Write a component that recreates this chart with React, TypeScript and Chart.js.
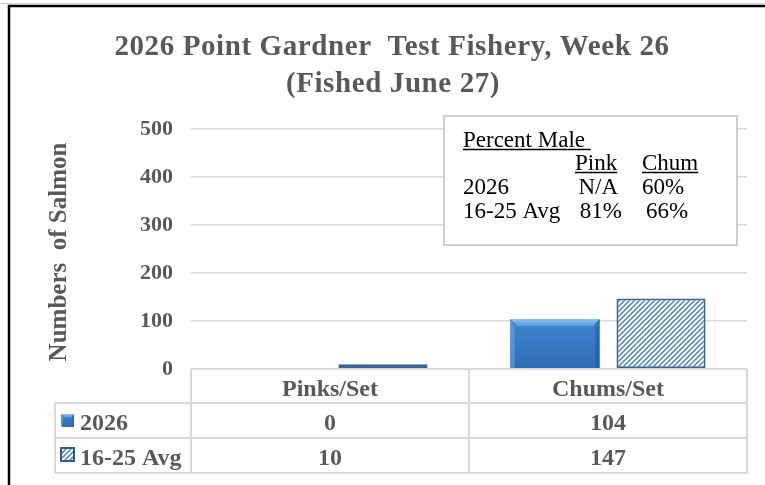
import React, { useEffect, useRef } from 'react';
import { Chart, registerables } from 'chart.js';

Chart.register(...registerables);

// ---- data ----
const categories = ['Pinks/Set', 'Chums/Set'];
const seriesNames = ['2026', '16-25 Avg'];
const values2026 = [0, 104];
const valuesAvg = [10, 147];
const yTicks = [0, 100, 200, 300, 400, 500];
const titleLines = ['2026 Point Gardner  Test Fishery, Week 26', '(Fished June 27)'];
const yAxisTitle = 'Numbers  of Salmon';
const boxHeading = 'Percent Male ';
const boxColumns = ['Pink', 'Chum'];
const boxRowLabels = ['2026', '16-25 Avg'];
const boxPink = ['N/A', '81%'];
const boxChum = ['60%', '66%'];

const SERIF = "'Liberation Serif', 'Times New Roman', serif";
const GRAY = '#595959';
const LINE = '#d9d9d9';

function makeHatch(ctx: CanvasRenderingContext2D): CanvasPattern | string {
  const s = 5;
  const c = document.createElement('canvas');
  c.width = s;
  c.height = s;
  const g = c.getContext('2d')!;
  g.fillStyle = '#ffffff';
  g.fillRect(0, 0, s, s);
  g.strokeStyle = '#4f7fbd';
  g.lineWidth = 1.5;
  g.beginPath();
  g.moveTo(0, s); g.lineTo(s, 0);
  g.moveTo(-s / 2, s / 2); g.lineTo(s / 2, -s / 2);
  g.moveTo(s / 2, s * 1.5); g.lineTo(s * 1.5, s / 2);
  g.stroke();
  return ctx.createPattern(c, 'repeat') || '#ffffff';
}

function drawBevelBar(ctx: CanvasRenderingContext2D, l: number, t: number, w: number, h: number) {
  const r = l + w;
  const base = t + h;
  const g = ctx.createLinearGradient(0, t, 0, base);
  g.addColorStop(0, '#4287d3');
  g.addColorStop(1, '#2f6cb6');
  ctx.fillStyle = g;
  ctx.fillRect(l, t, w, h);
  const b = Math.min(7, h / 3, w / 4);
  const gt = ctx.createLinearGradient(0, t, 0, t + b);
  gt.addColorStop(0, '#8cc0f2');
  gt.addColorStop(1, '#5d9de3');
  ctx.fillStyle = gt;
  ctx.beginPath();
  ctx.moveTo(l, t); ctx.lineTo(r, t); ctx.lineTo(r - b, t + b); ctx.lineTo(l + b, t + b); ctx.closePath();
  ctx.fill();
  ctx.fillStyle = 'rgba(110,170,235,0.55)';
  ctx.beginPath();
  ctx.moveTo(l, t); ctx.lineTo(l + b * 0.6, t + b); ctx.lineTo(l + b * 0.6, base); ctx.lineTo(l, base); ctx.closePath();
  ctx.fill();
  ctx.fillStyle = 'rgba(30,80,150,0.45)';
  ctx.beginPath();
  ctx.moveTo(r, t); ctx.lineTo(r - b * 0.6, t + b); ctx.lineTo(r - b * 0.6, base); ctx.lineTo(r, base); ctx.closePath();
  ctx.fill();
}

function underlineText(ctx: CanvasRenderingContext2D, text: string, x: number, y: number) {
  ctx.fillText(text, x, y);
  const w = ctx.measureText(text).width;
  ctx.beginPath();
  ctx.lineWidth = 1.4;
  ctx.strokeStyle = '#000';
  ctx.moveTo(x, y + 2.5);
  ctx.lineTo(x + w, y + 2.5);
  ctx.stroke();
}

export default function App() {
  const ref = useRef<HTMLCanvasElement>(null);

  useEffect(() => {
    const canvas = ref.current!;
    const ctx0 = canvas.getContext('2d')!;
    const hatch = makeHatch(ctx0);

    const bevelPlugin = {
      id: 'bevel',
      afterDatasetsDraw(chart: any) {
        const ctx = chart.ctx as CanvasRenderingContext2D;
        const meta = chart.getDatasetMeta(0);
        ctx.save();
        meta.data.forEach((el: any) => {
          const p = el.getProps(['x', 'y', 'base', 'width'], true);
          const h = p.base - p.y;
          if (h < 1) return;
          drawBevelBar(ctx, p.x - p.width / 2, p.y, p.width, h);
        });
        ctx.restore();
      },
    };

    const decorPlugin = {
      id: 'decor',
      afterDraw(chart: any) {
        const ctx = chart.ctx as CanvasRenderingContext2D;
        const area = chart.chartArea;
        const xs = chart.scales.x;
        ctx.save();

        // outer frame
        ctx.strokeStyle = '#d0d0d0';
        ctx.lineWidth = 1;
        ctx.beginPath();
        ctx.moveTo(0, 3.5); ctx.lineTo(765, 3.5);
        ctx.stroke();
        ctx.strokeStyle = '#000';
        ctx.lineWidth = 2.5;
        ctx.strokeRect(9, 6, 900, 700);

        // title
        ctx.fillStyle = GRAY;
        ctx.font = `bold 29px ${SERIF}`;
        ctx.textAlign = 'center';
        ctx.textBaseline = 'alphabetic';
        (ctx as any).letterSpacing = '0.6px';
        ctx.fillText(titleLines[0], 392, 55);
        ctx.fillText(titleLines[1], 393, 92);
        (ctx as any).letterSpacing = '0px';

        // y axis title
        ctx.save();
        ctx.translate(66, 252);
        ctx.rotate(-Math.PI / 2);
        ctx.font = `bold 25px ${SERIF}`;
        ctx.textAlign = 'center';
        ctx.textBaseline = 'alphabetic';
        ctx.fillStyle = GRAY;
        ctx.fillText(yAxisTitle, 0, 0);
        ctx.restore();

        // data table
        const tLeft = 55;
        const top = area.bottom;
        const r1 = top + 34;
        const r2 = r1 + 35;
        const r3 = r2 + 35;
        const mid = (xs.getPixelForValue(0) + xs.getPixelForValue(1)) / 2;
        ctx.strokeStyle = LINE;
        ctx.lineWidth = 2;
        ctx.beginPath();
        ctx.moveTo(area.left, top); ctx.lineTo(area.right, top);
        [r1, r2, r3].forEach((yy) => { ctx.moveTo(tLeft, yy); ctx.lineTo(area.right, yy); });
        ctx.moveTo(tLeft, r1); ctx.lineTo(tLeft, r3);
        [area.left, mid, area.right].forEach((xx) => { ctx.moveTo(xx, top); ctx.lineTo(xx, r3); });
        ctx.stroke();

        ctx.fillStyle = GRAY;
        ctx.font = `bold 24px ${SERIF}`;
        ctx.textAlign = 'center';
        ctx.textBaseline = 'alphabetic';
        categories.forEach((c, i) => {
          const cx = xs.getPixelForValue(i);
          ctx.fillText(c, cx, top + 27);
          ctx.fillText(String(values2026[i]), cx, r1 + 27);
          ctx.fillText(String(valuesAvg[i]), cx, r2 + 27);
        });
        ctx.textAlign = 'left';
        ctx.fillText(seriesNames[0], 80, r1 + 27);
        ctx.fillText(seriesNames[1], 80, r2 + 27);
        // legend keys
        drawBevelBar(ctx, 61, r1 + 11, 13, 13);
        ctx.fillStyle = hatch as any;
        ctx.fillRect(61, r2 + 10, 13, 13);
        ctx.strokeStyle = '#2f5a8f';
        ctx.lineWidth = 2;
        ctx.strokeRect(61, r2 + 10, 13, 13);

        // percent male box
        const bx = 444, by = 116, bw = 293, bh = 129;
        ctx.fillStyle = '#ffffff';
        ctx.fillRect(bx, by, bw, bh);
        ctx.strokeStyle = '#bfbfbf';
        ctx.lineWidth = 1.5;
        ctx.strokeRect(bx, by, bw, bh);
        ctx.fillStyle = '#000';
        ctx.font = `23px ${SERIF}`;
        ctx.textAlign = 'left';
        underlineText(ctx, boxHeading, 463, 147);
        underlineText(ctx, boxColumns[0], 575, 170);
        underlineText(ctx, boxColumns[1], 642, 170);
        boxRowLabels.forEach((lab, i) => {
          const yy = 194 + i * 24;
          ctx.fillText(lab, 463, yy);
          ctx.textAlign = 'right';
          ctx.fillText(boxPink[i], i === 0 ? 618 : 622, yy);
          ctx.textAlign = 'left';
          ctx.fillText(boxChum[i], i === 0 ? 642 : 646, yy);
        });

        ctx.restore();
      },
    };

    const chart = new Chart(canvas, {
      type: 'bar',
      data: {
        labels: categories,
        datasets: [
          {
            label: seriesNames[0],
            data: values2026,
            backgroundColor: '#3a7bc8',
            borderWidth: 0,
            categoryPercentage: 0.763,
            barPercentage: 0.84,
          },
          {
            label: seriesNames[1],
            data: valuesAvg,
            backgroundColor: hatch as any,
            borderColor: '#3a6396',
            borderWidth: 2,
            borderSkipped: false,
            categoryPercentage: 0.763,
            barPercentage: 0.84,
          },
        ],
      },
      plugins: [bevelPlugin, decorPlugin],
      options: {
        responsive: false,
        animation: false,
        devicePixelRatio: 1,
        layout: { padding: { left: 0, top: 129, right: 18, bottom: 116 } },
        plugins: {
          legend: { display: false },
          title: { display: false },
          tooltip: { enabled: false },
        },
        scales: {
          x: { display: false },
          y: {
            min: yTicks[0],
            max: yTicks[yTicks.length - 1],
            afterFit: (s: any) => { s.width = 191; },
            afterBuildTicks: (s: any) => { s.ticks = yTicks.map((v) => ({ value: v })); },
            ticks: {
              stepSize: yTicks[1] - yTicks[0],
              color: GRAY,
              padding: 18,
              font: { family: SERIF, size: 22, weight: 'bold' },
            },
            grid: { color: LINE, lineWidth: 1.5, drawTicks: false },
            border: { display: false },
          },
        },
      } as any,
    });

    return () => chart.destroy();
  }, []);

  return (
    <div style={{ position: 'absolute', left: 0, top: 0, width: 765, height: 485, background: '#fff' }}>
      <canvas ref={ref} width={765} height={485} style={{ width: 765, height: 485, display: 'block' }} />
    </div>
  );
}
